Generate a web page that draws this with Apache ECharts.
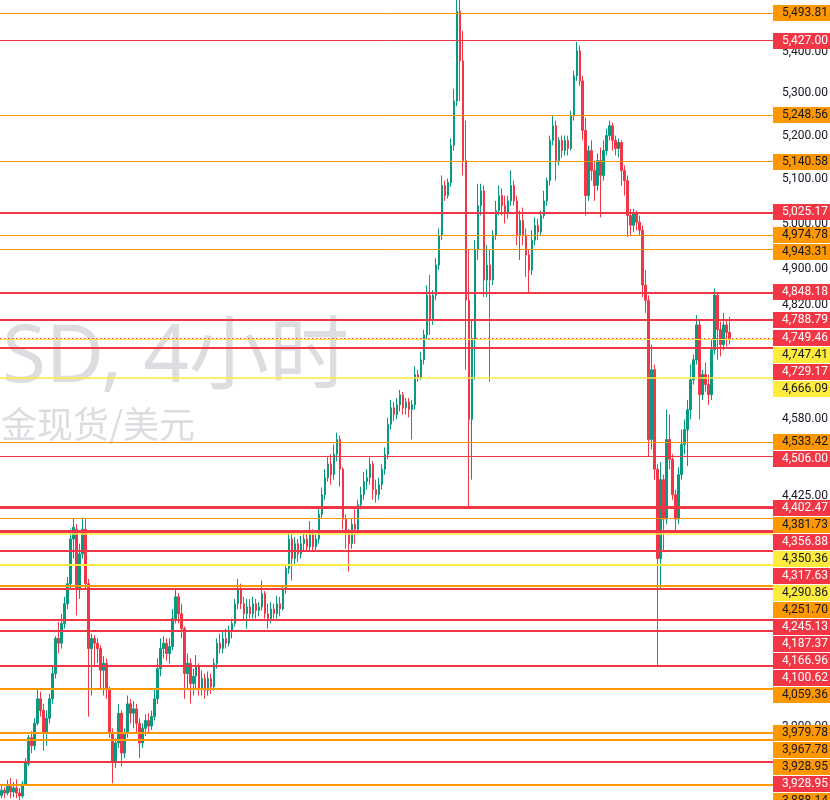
<!DOCTYPE html>
<html><head><meta charset="utf-8">
<script src="https://cdn.jsdelivr.net/npm/echarts@6/dist/echarts.min.js"></script>
<style>html,body{margin:0;padding:0;background:#fff}#c{width:830px;height:800px}</style>
</head><body><div id="c"></div>
<script>
// ---- data ----
const opens = [
3870,3879,3874,3886,3876,3883,3874,3869,3890,3925,
3971,3957,3997,4041,4020,3979,4006,4041,4087,4152,
4143,4180,4217,4255,4341,4360,4245,4312,4360,4255,
4133,4152,4143,4133,4093,4106,4060,3979,3927,3962,
4015,3944,3979,4032,4015,4023,3997,3962,3988,4002,
3992,4009,4041,4096,4133,4143,4124,4137,4189,4230,
4198,4170,4087,4106,4069,4082,4100,4060,4078,4056,
4078,4063,4106,4143,4133,4152,4143,4167,4180,4217,
4245,4217,4198,4211,4198,4217,4204,4211,4236,4198,
4189,4207,4198,4217,4207,4245,4284,4341,4303,4332,
4312,4332,4341,4326,4351,4326,4341,4389,4428,4462,
4489,4468,4509,4539,4479,4380,4351,4332,4370,4360,
4408,4428,4454,4462,4489,4438,4428,4448,4479,4509,
4570,4604,4590,4610,4631,4604,4616,4600,4610,4673,
4666,4704,4757,4842,4789,4842,4908,4974,5086,5063,
5093,5178,5282,5499,5378,5143,4831,4580,4747,4941,
5040,5074,4875,4908,4875,4974,5029,5063,5040,5025,
5051,5086,5051,4974,5007,4974,4930,4897,4963,4996,
4981,5018,5051,5097,5190,5224,5143,5190,5166,5190,
5171,5247,5342,5402,5330,5213,5063,5166,5120,5086,
5143,5109,5166,5201,5224,5190,5171,5185,5120,5097,
5018,4996,5025,5003,4985,4864,4831,4539,4683,4479,
4303,4458,4380,4539,4499,4428,4380,4468,4529,4559,
4600,4662,4704,4778,4631,4673,4652,4631,4725,4842,
4768,4736,4778,4762];
const closes = [
3879,3874,3886,3876,3883,3874,3869,3890,3927,3971,
3957,3997,4041,4020,3979,4006,4041,4087,4152,4143,
4180,4217,4255,4341,4364,4245,4312,4360,4255,4133,
4152,4143,4133,4093,4106,4060,3979,3927,3962,4015,
3944,3979,4032,4015,4023,3997,3962,3988,4002,3992,
4009,4041,4096,4133,4143,4124,4137,4189,4230,4198,
4170,4087,4106,4069,4082,4100,4060,4078,4056,4078,
4063,4106,4143,4133,4152,4143,4167,4180,4217,4245,
4217,4198,4211,4198,4217,4204,4211,4236,4198,4189,
4207,4198,4217,4207,4245,4284,4341,4303,4332,4312,
4332,4341,4326,4351,4326,4341,4389,4428,4462,4489,
4468,4509,4539,4479,4380,4351,4332,4370,4360,4408,
4428,4454,4462,4489,4438,4428,4448,4479,4509,4570,
4604,4590,4610,4631,4604,4616,4600,4610,4673,4666,
4704,4757,4842,4789,4842,4908,4974,5086,5063,5093,
5178,5282,5499,5378,5143,4831,4580,4747,4941,5040,
5074,4875,4908,4875,4974,5029,5063,5040,5025,5051,
5086,5051,4974,5007,4974,4930,4897,4963,4996,4981,
5018,5051,5097,5190,5224,5143,5190,5166,5190,5171,
5247,5342,5402,5330,5213,5063,5166,5120,5086,5143,
5109,5166,5201,5224,5190,5171,5185,5120,5097,5018,
4996,5025,5003,4985,4864,4831,4539,4683,4479,4303,
4458,4380,4539,4499,4428,4380,4468,4529,4559,4600,
4662,4704,4778,4631,4673,4652,4631,4725,4842,4768,
4736,4778,4762,4749.46];
const lows = [
3865,3865,3870,3865,3867,3865,3861,3865,3886,3921,
3944,3949,3993,4009,3948,3957,3997,4032,4078,4124,
4133,4170,4207,4245,4303,4195,4226,4303,4245,4009,
4047,4102,4106,4060,4047,4041,3971,3891,3918,3953,
3921,3935,3971,3997,3988,3979,3935,3953,3974,3979,
3985,4002,4032,4082,4115,4111,4106,4130,4180,4180,
4152,4041,4060,4032,4047,4060,4047,4047,4041,4047,
4050,4056,4096,4124,4124,4133,4137,4152,4174,4207,
4207,4185,4170,4189,4189,4189,4193,4204,4189,4170,
4180,4189,4189,4193,4204,4236,4274,4261,4293,4297,
4303,4316,4316,4318,4316,4316,4332,4380,4418,4454,
4448,4458,4495,4444,4360,4322,4278,4322,4332,4351,
4399,4418,4438,4448,4418,4412,4418,4438,4468,4499,
4559,4576,4580,4596,4590,4590,4584,4539,4600,4658,
4662,4694,4747,4757,4778,4831,4897,4963,5051,5056,
5083,5166,5270,5282,5109,4683,4403,4458,4662,4919,
5018,4838,4838,4658,4864,4963,5018,5018,5000,5011,
5040,5040,4952,4919,4952,4882,4846,4886,4952,4963,
4974,5011,5040,5086,5178,5097,5132,5150,5155,5155,
5166,5236,5330,5318,5190,5018,5051,5097,5051,5074,
5014,5097,5155,5190,5166,5155,5150,5086,5063,4970,
4974,4981,4985,4974,4838,4804,4505,4519,4458,4102,
4245,4316,4370,4479,4418,4355,4370,4458,4509,4485,
4580,4652,4694,4580,4620,4637,4610,4620,4715,4704,
4711,4725,4732,4736];
const highs = [
3890,3884,3897,3900,3893,3898,3883,3895,3935,3976,
3983,4006,4060,4054,4032,4020,4050,4100,4156,4183,
4198,4230,4268,4360,4382,4370,4332,4383,4380,4264,
4161,4158,4152,4139,4119,4115,4063,3988,3971,4032,
4020,3988,4047,4041,4037,4032,4006,3997,4013,4015,
4020,4060,4115,4152,4156,4152,4152,4207,4247,4237,
4217,4174,4124,4115,4096,4121,4106,4093,4087,4091,
4087,4115,4152,4161,4167,4170,4176,4189,4226,4264,
4255,4230,4226,4226,4230,4226,4220,4261,4241,4217,
4220,4217,4232,4230,4251,4293,4355,4355,4345,4341,
4347,4355,4351,4376,4360,4351,4403,4442,4479,4503,
4509,4529,4553,4547,4483,4389,4360,4380,4399,4418,
4444,4473,4479,4503,4495,4458,4462,4489,4523,4584,
4620,4616,4624,4641,4637,4624,4624,4620,4690,4683,
4721,4768,4864,4886,4853,4923,4989,5109,5097,5102,
5194,5311,5593,5560,5451,5236,4941,4789,4963,5090,
5090,5086,4952,4941,4985,5051,5086,5079,5063,5063,
5120,5097,5063,5029,5036,4989,4941,4985,5014,5011,
5029,5074,5104,5201,5247,5236,5197,5201,5201,5201,
5259,5354,5424,5415,5342,5243,5178,5190,5143,5160,
5173,5190,5217,5236,5231,5201,5194,5190,5132,5109,
5033,5033,5029,5018,4996,4897,4842,4736,4694,4489,
4493,4468,4600,4590,4509,4438,4483,4559,4580,4620,
4694,4715,4799,4789,4683,4698,4673,4747,4857,4846,
4785,4804,4789,4795];

// horizontal price levels (values) and their kind
const levelPrices = [5493.81,5427.00,5248.56,5140.58,5025.17,4974.78,4943.31,4848.18,4788.79,4749.46,
  4747.41,4729.17,4666.09,4533.42,4506.00,4402.47,4381.73,4356.88,4350.36,4317.63,
  4290.86,4251.70,4245.13,4187.37,4166.96,4100.62,4059.36,3979.78,3967.78,3928.95,
  3928.95,3888.14];
const levelKinds = ['orange','red','orange','orange','red','orange','orange','red','red','price',
  'yellow','red','yellow','orange','red','red','orange','red','yellow','red',
  'yellow','orange','red','red','red','red','orange','orange','orange','orange',
  'red','orange'];
// price-scale tick labels
const tickValues = [5400,5300,5200,5100,5000,4900,4820,4580,4425,3990];
const titleText = 'XAUUSD, 4小时';
const subtitleText = '黄金现货/美元';

// ---- styles (kept apart from data) ----
const levelWidths = [1,1,1,1,2,1,1,2,2,1, 1,2,1.5,1,1,3,1,3,1.5,2, 2,2,2,2,2,2,2,2,2,2, 2,2];
const kindStyle = {
  orange: {line:'#FF9800', box:'#FF9800', text:'#131722'},
  red:    {line:'#F23645', box:'#F23645', text:'#FFFFFF'},
  yellow: {line:'#FFEB3B', box:'#FFEB3B', text:'#131722'},
  price:  {line:'#F23645', box:'#F23645', text:'#FFFFFF'}
};
const UP = '#089981', DOWN = '#F23645';
const PLOT_RIGHT = 773, EMPTY_SLOTS = 14;

const chart = echarts.init(document.getElementById('c'), null, {renderer:'canvas'});
const candleData = opens.map((o, i) => [o, closes[i], lows[i], highs[i]]);
const slotCount = candleData.length + EMPTY_SLOTS;
const categories = Array.from({length: slotCount}, (_, i) => String(i));

chart.setOption({
  animation: false,
  backgroundColor: '#ffffff',
  grid: {left: 0, right: 830 - PLOT_RIGHT, top: 0, bottom: 0},
  xAxis: {type: 'category', data: categories, boundaryGap: true, show: false},
  yAxis: {type: 'log', logBase: 10, position: 'right', min: 3862.0, max: 5526.7,
    axisLine: {show: false}, axisTick: {show: false}, axisLabel: {show: false}, splitLine: {show: false}},
  series: [{
    type: 'candlestick',
    data: candleData,
    barWidth: 2,
    z: 3,
    itemStyle: {color: UP, color0: DOWN, borderColor: UP, borderColor0: DOWN, borderWidth: 1},
    markLine: {
      silent: true, symbol: ['none','none'], z: 6,
      label: {show: false},
      emphasis: {disabled: true},
      data: levelPrices.map((p, i) => ({
        yAxis: p,
        lineStyle: {
          color: kindStyle[levelKinds[i]].line,
          width: levelWidths[i],
          type: levelKinds[i] === 'price' ? [1.5, 2.5] : 'solid',
          opacity: 1
        }
      }))
    }
  }]
});

// labels on price scale, positioned from the axis scale, stacked to avoid overlap
const graphics = [];
graphics.push({type:'text', z: 0, silent: true, style: {
  text: titleText, x: 349, y: 359, align: 'right', verticalAlign: 'middle',
  fill: '#DCDDE0', font: '80px "Noto Sans", "Noto Sans CJK SC", sans-serif'}});
graphics.push({type:'text', z: 0, silent: true, style: {
  text: subtitleText, x: 195, y: 424, align: 'right', verticalAlign: 'middle',
  fill: '#DCDDE0', font: '36px "Noto Sans CJK SC", "Noto Sans", sans-serif'}});

const fmt = v => v.toLocaleString('en-US', {minimumFractionDigits: 2, maximumFractionDigits: 2});
tickValues.forEach(v => {
  const y = chart.convertToPixel({yAxisIndex: 0}, v);
  graphics.push({type:'text', z: 50, silent: true, style: {
    text: fmt(v), x: 828, y: y, align: 'right', verticalAlign: 'middle',
    fill: '#131722', font: '12px Roboto, sans-serif'}});
});
let prev = -1e9;
const PITCH = 17;
levelPrices.forEach((p, i) => {
  const ly = chart.convertToPixel({yAxisIndex: 0}, p);
  const y = Math.max(ly, prev + PITCH);
  prev = y;
  const st = kindStyle[levelKinds[i]];
  graphics.push({type:'rect', z: 100, silent: true, shape: {x: PLOT_RIGHT, y: Math.round(y - 8), width: 830 - PLOT_RIGHT, height: 16},
    style: {fill: st.box}});
  graphics.push({type:'text', z: 101, silent: true, style: {
    text: fmt(p), x: 828, y: Math.round(y - 8) + 8, align: 'right', verticalAlign: 'middle',
    fill: st.text, font: '12px Roboto, sans-serif'}});
});
chart.setOption({graphic: graphics});
</script>
</body></html>
